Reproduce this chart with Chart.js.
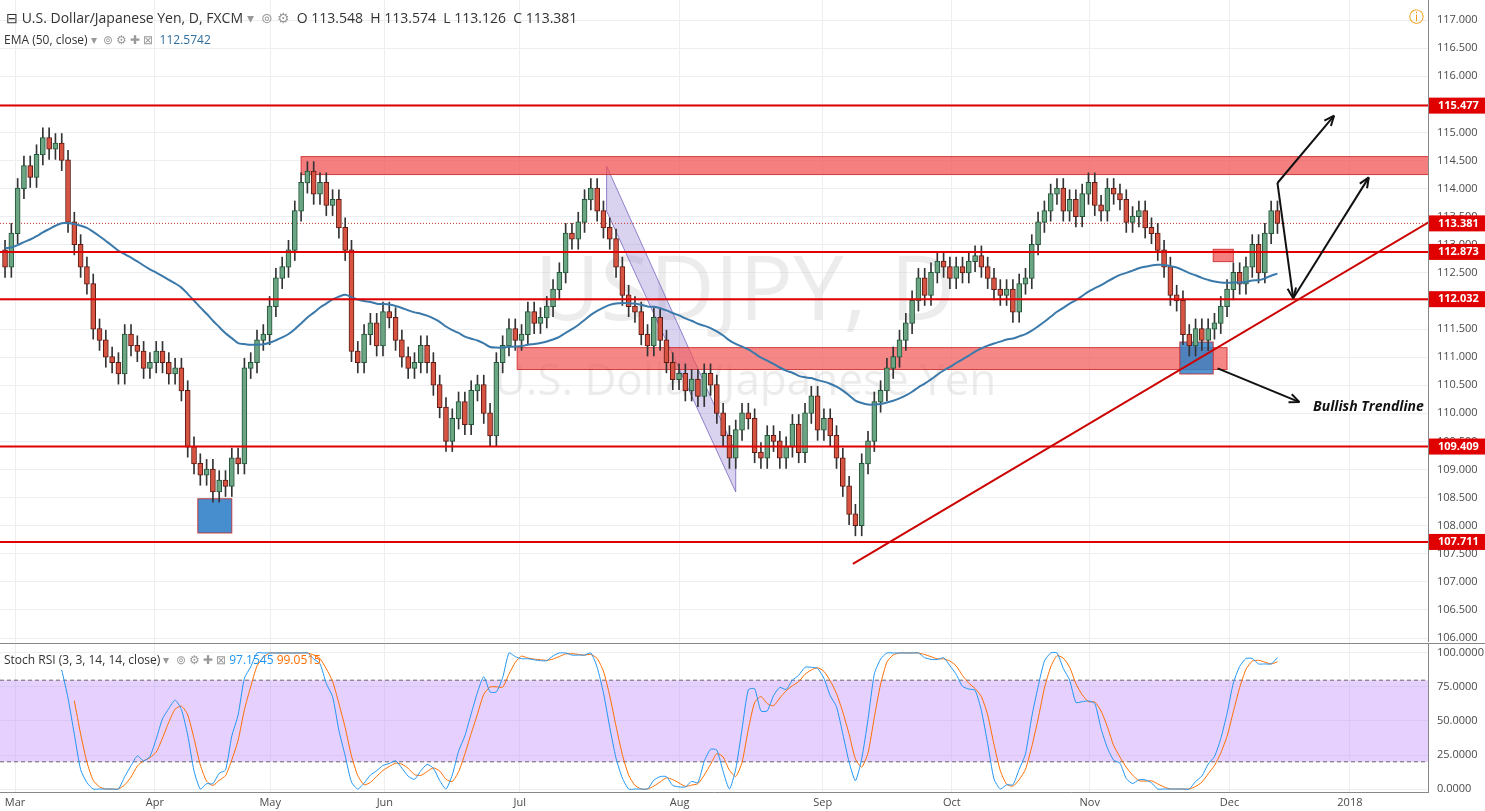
<!DOCTYPE html>
<html>
<head>
<meta charset="utf-8">
<script src="https://cdn.jsdelivr.net/npm/chart.js@4.4.0/dist/chart.umd.min.js"></script>
<style>
  body { margin: 0; background: #fff; font-family: "Open Sans", Arial, sans-serif; }
  #wrap { position: relative; width: 1485px; height: 811px; overflow: hidden; }
  #main { position: absolute; left: 0; top: 0; width: 1485px; height: 642px; }
  #osc { position: absolute; left: 0; top: 643px; width: 1485px; height: 168px; border-top: 1px solid #888; background: #fff; }
  .hdr { position: absolute; font-size: 13px; color: #333; white-space: nowrap; }
  .hdr span.g { color: #999; }
</style>
</head>
<body>
<div id="wrap">
  <div id="main"><canvas id="priceChart"></canvas></div>
  <div id="osc"><canvas id="rsiChart"></canvas></div>
  <div class="hdr" style="left:6px;top:8px;font-size:14px">⊟ U.S. Dollar/Japanese Yen, D, FXCM <span class="g">▾ &nbsp;⊚ ⚙</span> &nbsp;O 113.548 &nbsp;H 113.574 &nbsp;L 113.126 &nbsp;C 113.381</div>
  <div class="hdr" style="left:4px;top:31px;font-size:12px">EMA (50, close) <span class="g">▾ &nbsp;⊚ ⚙ ✚ ⊠</span> &nbsp;<span style="color:#2f6f9f">112.5742</span></div>
  <div class="hdr" style="left:4px;top:651px;font-size:12px">Stoch RSI (3, 3, 14, 14, close) <span class="g">▾ &nbsp;⊚ ⚙ ✚ ⊠</span> <span style="color:#2196f3">97.1545</span> <span style="color:#ff6d00">99.0515</span></div>
  <div class="hdr" style="left:1409px;top:6px;color:#f39c12;font-size:15px">ⓘ</div>
</div>
<script>
// month tick positions (bar index) and labels
const monthTicks = [1.6, 23.8, 42.1, 60.3, 81.7, 107.1, 129.8, 150.3, 172.2, 194.4, 213.5];
const monthLabels = ['Mar', 'Apr', 'May', 'Jun', 'Jul', 'Aug', 'Sep', 'Oct', 'Nov', 'Dec', '2018'];
const priceTicks = [106, 106.5, 107, 107.5, 108, 108.5, 109, 109.5, 110, 110.5, 111, 111.5, 112, 112.5, 113, 113.5, 114, 114.5, 115, 115.5, 116, 116.5, 117];
const oscTicks = [0, 25, 50, 75, 100];

// daily closes, Mar 1 - Dec 8 2017
const closes = [
  112.6,113.2,114.0,114.4,114.2,114.6,114.9,114.7,114.8,114.5,113.4,113.0,112.6,112.3,111.5,111.3,111.0,110.9,110.7,111.4,111.2,111.1,110.8,
  110.9,111.1,110.9,110.7,110.8,110.4,109.4,109.1,108.9,109.0,108.6,108.8,108.7,109.2,109.1,110.8,110.9,111.3,111.4,111.9,
  112.4,112.6,112.9,113.6,114.1,114.3,113.9,114.1,113.7,113.8,113.3,112.9,111.1,110.9,111.4,111.6,111.2,111.8,111.7,111.3,111.0,110.8,110.9,
  111.2,110.9,110.5,110.1,109.5,109.9,110.2,109.8,110.4,110.5,110.0,109.6,110.9,111.2,111.5,111.3,111.4,111.8,111.6,111.7,111.9,112.2,
  112.5,113.2,113.1,113.4,113.8,114.0,113.6,113.3,113.1,112.6,112.1,111.9,111.8,111.4,111.2,111.7,111.3,110.9,110.6,110.7,110.4,
  110.6,110.3,110.7,110.5,110.0,109.6,109.2,109.7,110.0,109.9,109.3,109.2,109.6,109.5,109.2,109.4,109.8,109.3,110.0,110.3,109.7,109.9,109.6,
  109.2,108.7,108.2,108.0,109.1,109.5,110.2,110.4,110.8,111.0,111.3,111.6,112.0,112.4,112.1,112.5,112.7,112.6,112.4,112.6,112.5,
  112.7,112.8,112.6,112.4,112.2,112.1,112.2,111.8,112.3,112.4,113.0,113.4,113.6,113.9,114.0,113.6,113.8,113.5,113.9,114.1,113.7,113.6,
  114.0,113.9,113.8,113.4,113.5,113.6,113.3,113.2,112.9,112.6,112.1,112.0,111.4,111.2,111.5,111.3,111.5,111.6,111.9,112.2,112.5,112.3,
  112.6,113.0,112.5,113.2,113.6,113.381
];
// late-February closes (off screen), only used to warm up the indicators
const febCloses = [113.8,113.2,112.8,113.5,113.9,114.3,113.6,113.0,112.6,112.2,112.7,113.3,112.9,112.4,112.1,112.8,113.3,112.9,112.2,112.5];
const firstOpen = 112.9;

// horizontal levels and drawings (price / bar-index units)
const levels = [115.477, 112.873, 112.032, 109.409, 107.711];
const lastPrice = 113.381;
const zones = [
  { x0: 47, x1: 230, y0: 114.25, y1: 114.57, color: 'rgba(242,84,84,0.75)' },
  { x0: 81.3, x1: 194, y0: 110.78, y1: 111.17, color: 'rgba(242,84,84,0.7)' },
  { x0: 30.6, x1: 36, y0: 107.87, y1: 108.48, color: 'rgba(50,130,200,0.9)' },
  { x0: 186.5, x1: 191.8, y0: 110.7, y1: 111.27, color: 'rgba(50,130,200,0.85)' },
  { x0: 191.8, x1: 195, y0: 112.7, y1: 112.92, color: 'rgba(242,84,84,0.75)' }
];
const channel = [[95.5, 113.6], [116, 108.6], [116, 109.3], [95.5, 114.4]];
const trendline = [[134.6, 107.32], [226, 113.4]];
const arrows = [
  [[202, 114.1], [211, 115.3]],
  [[202, 114.1], [204.5, 112.05]],
  [[204.5, 112.05], [216.5, 114.2]],
  [[192.5, 110.8], [205.5, 110.2]]
];

const xMin = -0.8, xMax = 225.9;
const axisFont = '11px "Open Sans"';
const gridColor = '#eceff2';

// EMA 50 warmed up on late February
const ema = [];
let e = 113.0;
febCloses.forEach(c => { e = e + (c - e) * 2 / 51; });
for (let i = 0; i < closes.length; i++) { e = e + (closes[i] - e) * 2 / 51; ema.push({ x: i, y: e }); }

const candles = closes.map((c, i) => {
  const o = i === 0 ? firstOpen : closes[i - 1];
  return { x: i, o, c, h: Math.max(o, c) + 0.18, l: Math.min(o, c) - 0.18 };
});

const overlayPlugin = {
  id: 'overlay',
  beforeDatasetsDraw(chart) {
    const { ctx, chartArea: a, scales: { x, y } } = chart;
    ctx.save();
    ctx.beginPath(); ctx.rect(a.left, a.top, a.right - a.left, a.bottom - a.top); ctx.clip();
    ctx.fillStyle = 'rgba(200,200,200,0.35)';
    ctx.font = '90px "Open Sans"';
    ctx.textAlign = 'center';
    ctx.fillText('USDJPY, D', 745, 320);
    ctx.font = '44px "Open Sans"';
    ctx.fillText('U.S. Dollar/Japanese Yen', 745, 395);
    ctx.beginPath();
    channel.forEach((p, k) => { const px = x.getPixelForValue(p[0]), py = y.getPixelForValue(p[1]); k ? ctx.lineTo(px, py) : ctx.moveTo(px, py); });
    ctx.closePath();
    ctx.fillStyle = 'rgba(150,130,210,0.35)'; ctx.fill();
    ctx.strokeStyle = 'rgba(120,100,190,0.8)'; ctx.lineWidth = 1; ctx.stroke();
    zones.forEach(z => {
      const x0 = x.getPixelForValue(z.x0), x1 = x.getPixelForValue(z.x1);
      const y0 = y.getPixelForValue(z.y1), y1 = y.getPixelForValue(z.y0);
      ctx.fillStyle = z.color; ctx.fillRect(x0, y0, x1 - x0, y1 - y0);
      ctx.strokeStyle = 'rgba(200,30,30,0.8)'; ctx.strokeRect(x0, y0, x1 - x0, y1 - y0);
    });
    ctx.setLineDash([1, 2]); ctx.strokeStyle = '#c0392b';
    ctx.beginPath(); ctx.moveTo(a.left, y.getPixelForValue(lastPrice)); ctx.lineTo(a.right, y.getPixelForValue(lastPrice)); ctx.stroke();
    ctx.setLineDash([]);
    ctx.restore();
  },
  afterDatasetsDraw(chart) {
    const { ctx, chartArea: a, scales: { x, y } } = chart;
    ctx.save();
    ctx.beginPath(); ctx.rect(a.left, a.top, a.right - a.left, a.bottom - a.top); ctx.clip();
    ctx.strokeStyle = '#e00000'; ctx.lineWidth = 2;
    levels.forEach(v => { ctx.beginPath(); ctx.moveTo(a.left, y.getPixelForValue(v)); ctx.lineTo(a.right, y.getPixelForValue(v)); ctx.stroke(); });
    ctx.strokeStyle = '#cc0000';
    ctx.beginPath();
    ctx.moveTo(x.getPixelForValue(trendline[0][0]), y.getPixelForValue(trendline[0][1]));
    ctx.lineTo(x.getPixelForValue(trendline[1][0]), y.getPixelForValue(trendline[1][1]));
    ctx.stroke();
    ctx.strokeStyle = '#111'; ctx.fillStyle = '#111'; ctx.lineWidth = 2;
    arrows.forEach(([p, q]) => {
      const x0 = x.getPixelForValue(p[0]), y0 = y.getPixelForValue(p[1]);
      const x1 = x.getPixelForValue(q[0]), y1 = y.getPixelForValue(q[1]);
      ctx.beginPath(); ctx.moveTo(x0, y0); ctx.lineTo(x1, y1); ctx.stroke();
      const ang = Math.atan2(y1 - y0, x1 - x0);
      ctx.beginPath();
      ctx.moveTo(x1, y1); ctx.lineTo(x1 - 11 * Math.cos(ang - 0.4), y1 - 11 * Math.sin(ang - 0.4));
      ctx.moveTo(x1, y1); ctx.lineTo(x1 - 11 * Math.cos(ang + 0.4), y1 - 11 * Math.sin(ang + 0.4));
      ctx.stroke();
    });
    ctx.font = 'italic bold 14px "Open Sans"';
    ctx.textAlign = 'left';
    ctx.fillText('Bullish Trendline', 1313, 411);
    ctx.restore();
    // price axis labels
    ctx.save();
    ctx.font = axisFont; ctx.fillStyle = '#4a4a4a';
    ctx.textAlign = 'left'; ctx.textBaseline = 'middle';
    priceTicks.forEach(v => ctx.fillText(v.toFixed(3), a.right + 9, y.getPixelForValue(v)));
    ctx.font = 'bold 11px "Open Sans"';
    levels.concat([lastPrice]).forEach(v => {
      const py = y.getPixelForValue(v);
      ctx.fillStyle = '#e00000'; ctx.fillRect(a.right + 1, py - 8, 56, 16);
      ctx.fillStyle = '#fff'; ctx.fillText(v.toFixed(3), a.right + 10, py);
    });
    ctx.restore();
  }
};

const rightFit = (scale) => { scale.width = 57; };

new Chart(document.getElementById('priceChart'), {
  type: 'bar',
  data: {
    datasets: [
      {
        label: 'wick',
        data: candles.map(k => ({ x: k.x, y: [k.l, k.h] })),
        backgroundColor: '#333', barThickness: 1, grouped: false, order: 2
      },
      {
        label: 'body',
        data: candles.map(k => ({ x: k.x, y: [Math.min(k.o, k.c), Math.max(k.o, k.c) + 0.01] })),
        backgroundColor: candles.map(k => k.c >= k.o ? '#6ba583' : '#d75442'),
        borderColor: candles.map(k => k.c >= k.o ? '#225437' : '#5b1a13'),
        borderWidth: 1, borderSkipped: false, barThickness: 5, grouped: false, order: 1
      },
      {
        type: 'line', label: 'EMA',
        data: ema, borderColor: '#3a79aa', borderWidth: 2, pointRadius: 0, tension: 0.3, order: 0
      }
    ]
  },
  options: {
    responsive: true, maintainAspectRatio: false, animation: false,
    layout: { padding: 0 },
    plugins: { legend: { display: false }, tooltip: { enabled: false } },
    scales: {
      x: {
        type: 'linear', min: xMin, max: xMax, offset: false,
        afterBuildTicks: (s) => { s.ticks = monthTicks.map(v => ({ value: v })); },
        ticks: { display: false },
        grid: { color: gridColor, drawTicks: false, offset: false },
        border: { display: false }
      },
      y: {
        position: 'right', min: 105.93, max: 117.357,
        afterFit: rightFit,
        afterBuildTicks: (s) => { s.ticks = priceTicks.map(v => ({ value: v })); },
        ticks: { display: false },
        grid: { color: gridColor, drawTicks: false },
        border: { color: '#888' }
      }
    }
  },
  plugins: [overlayPlugin]
});

// Stoch RSI (3, 3, 14, 14)
const all = febCloses.concat(closes);
const rsi = [];
let ag = 0, al = 0;
for (let i = 1; i < all.length; i++) {
  const d = all[i] - all[i - 1];
  const g = Math.max(d, 0), l = Math.max(-d, 0);
  if (i <= 14) { ag += g / 14; al += l / 14; rsi[i] = i === 14 ? 100 - 100 / (1 + ag / (al || 1e-9)) : null; }
  else { ag = (ag * 13 + g) / 14; al = (al * 13 + l) / 14; rsi[i] = 100 - 100 / (1 + ag / (al || 1e-9)); }
}
const stoch = all.map((_, i) => {
  const w = rsi.slice(Math.max(0, i - 13), i + 1).filter(v => v != null);
  if (w.length < 14) return null;
  const mn = Math.min(...w), mx = Math.max(...w);
  return mx === mn ? 50 : (rsi[i] - mn) / (mx - mn) * 100;
});
const sma3 = (arr) => arr.map((v, i) => {
  const w = arr.slice(Math.max(0, i - 2), i + 1);
  return (w.length < 3 || w.some(u => u == null)) ? null : (w[0] + w[1] + w[2]) / 3;
});
const kLine = sma3(stoch);
const dLine = sma3(kLine);
const off = febCloses.length;

const bandPlugin = {
  id: 'band',
  beforeDatasetsDraw(chart) {
    const { ctx, chartArea: a, scales: { y } } = chart;
    ctx.save();
    ctx.fillStyle = 'rgba(200,150,250,0.45)';
    ctx.fillRect(a.left, y.getPixelForValue(80), a.right - a.left, y.getPixelForValue(20) - y.getPixelForValue(80));
    ctx.setLineDash([4, 3]); ctx.strokeStyle = '#666'; ctx.lineWidth = 1;
    [80, 20].forEach(v => { ctx.beginPath(); ctx.moveTo(a.left, y.getPixelForValue(v)); ctx.lineTo(a.right, y.getPixelForValue(v)); ctx.stroke(); });
    ctx.restore();
  },
  afterDraw(chart) {
    const { ctx, chartArea: a, scales: { x, y } } = chart;
    ctx.save();
    ctx.font = axisFont; ctx.fillStyle = '#4a4a4a';
    ctx.textAlign = 'left'; ctx.textBaseline = 'middle';
    oscTicks.forEach(v => ctx.fillText(v.toFixed(4), a.right + 9, y.getPixelForValue(v)));
    ctx.textAlign = 'center';
    monthTicks.forEach((v, k) => ctx.fillText(monthLabels[k], x.getPixelForValue(v), a.bottom + 11));
    ctx.restore();
  }
};

new Chart(document.getElementById('rsiChart'), {
  type: 'line',
  data: {
    datasets: [
      { data: kLine.slice(off).map((v, i) => ({ x: i, y: v })), borderColor: '#2196f3', borderWidth: 1, pointRadius: 0, tension: 0.2 },
      { data: dLine.slice(off).map((v, i) => ({ x: i, y: v })), borderColor: '#ff6d00', borderWidth: 1, pointRadius: 0, tension: 0.2 }
    ]
  },
  options: {
    responsive: true, maintainAspectRatio: false, animation: false,
    layout: { padding: { top: 0, bottom: 20 } },
    plugins: { legend: { display: false }, tooltip: { enabled: false } },
    scales: {
      x: {
        type: 'linear', min: xMin, max: xMax,
        afterBuildTicks: (s) => { s.ticks = monthTicks.map(v => ({ value: v })); },
        ticks: { display: false },
        grid: { color: gridColor, drawTicks: false },
        border: { color: '#888' }
      },
      y: {
        position: 'right', min: -2.2, max: 106.6,
        afterFit: rightFit,
        afterBuildTicks: (s) => { s.ticks = oscTicks.map(v => ({ value: v })); },
        ticks: { display: false },
        grid: { color: gridColor, drawTicks: false },
        border: { color: '#888' }
      }
    }
  },
  plugins: [bandPlugin]
});
</script>
</body>
</html>
